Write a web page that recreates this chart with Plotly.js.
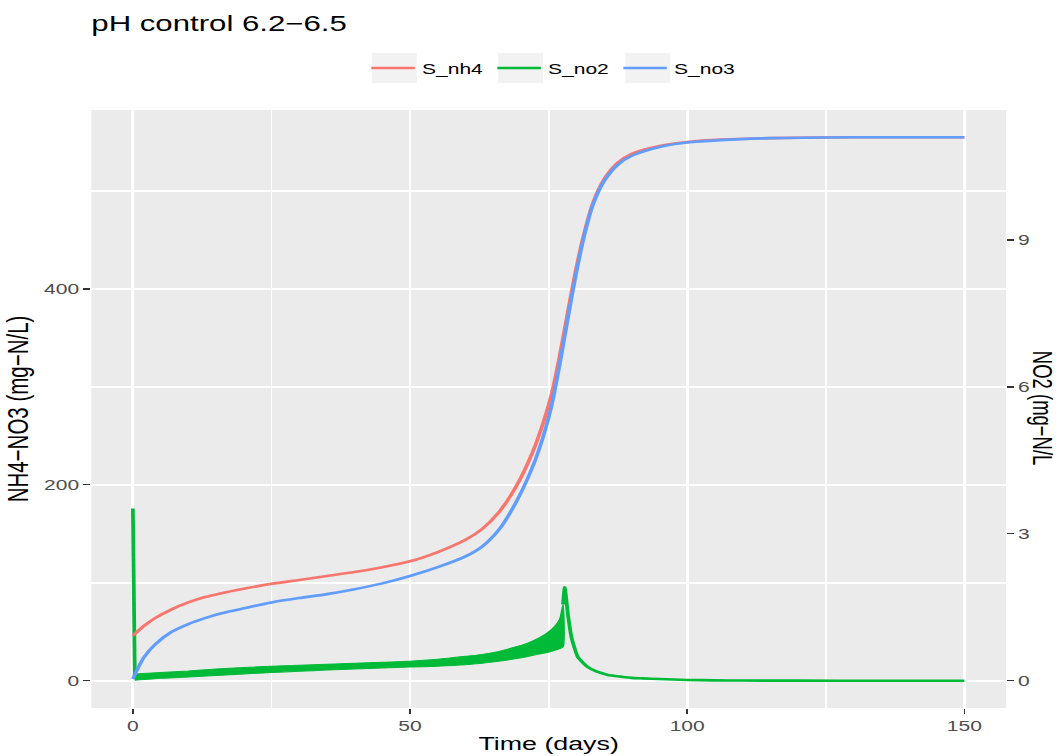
<!DOCTYPE html>
<html>
<head>
<meta charset="utf-8">
<script src="https://cdn.plot.ly/plotly-3.0.1.min.js"></script>
<style>
  html, body { margin: 0; padding: 0; overflow: hidden; background: #ffffff; }
  #plot { width: 732px; height: 756px; transform: scaleX(1.4495); transform-origin: 0 0; }
</style>
</head>
<body>
<div id="plot"></div>
<script>
// ---- data ----
const time = [0, 2, 4, 7, 10, 13, 16, 20, 25, 30, 35, 40, 45, 50, 55, 60, 63, 66, 69, 72, 74, 75.5, 77, 78.5, 80, 81.5, 83, 85, 87.5, 90, 95, 100, 106, 115, 130, 150];
const S_nh4 = [46, 56, 64, 73, 80, 85.5, 89.5, 94, 99, 103, 107, 111, 116, 122, 131.5, 144, 155, 172, 197, 232, 263, 292, 332, 378, 422, 459, 488, 512, 529, 538, 546, 550, 552.5, 554, 555, 555];
const S_no3 = [2, 24, 37, 50, 58, 64, 69, 74, 80, 84.5, 88.5, 93.5, 99.5, 107, 116, 127, 137, 154, 181, 217, 249, 280, 323, 371, 417, 456, 486, 510, 527, 536, 545, 549.5, 552, 554, 555, 555];

// S_no2 (mg-N/L, right axis): initial spike
const no2_spike_t = [0, 0.12, 0.35];
const no2_spike = [3.52, 0.95, 0.03];
// S_no2 fast oscillation: lower / upper envelope of the band
const no2_band_t = [0.35, 5, 10, 15, 20, 25, 30, 35, 40, 45, 50, 55, 60, 63, 66, 69, 71, 73, 74.5, 76, 77, 77.6];
const no2_band_lo = [0.01, 0.05, 0.08, 0.11, 0.14, 0.17, 0.194, 0.22, 0.24, 0.26, 0.28, 0.30, 0.33, 0.36, 0.40, 0.45, 0.49, 0.54, 0.57, 0.62, 0.66, 0.69];
const no2_band_hi = [0.14, 0.17, 0.20, 0.24, 0.27, 0.30, 0.32, 0.34, 0.36, 0.38, 0.40, 0.44, 0.50, 0.54, 0.60, 0.69, 0.76, 0.86, 0.96, 1.10, 1.26, 1.56];
// S_no2 peak and decay
const no2_decay_t = [77.6, 77.9, 78.5, 79.1, 79.7, 80.3, 81.2, 82.1, 83.5, 84.5, 85.7, 88, 90, 92, 95, 100, 105, 110, 120, 135, 150];
const no2_decay = [1.56, 1.91, 1.34, 0.90, 0.66, 0.48, 0.37, 0.28, 0.20, 0.16, 0.12, 0.086, 0.06, 0.05, 0.036, 0.018, 0.01, 0.006, 0.003, 0.0016, 0.001];

const xTicks = [0, 50, 100, 150];
const leftTicks = [0, 200, 400];
const rightTicks = [0, 3, 6, 9];

// ---- style ----
const RED = '#F8766D', GREEN = '#00BA38', BLUE = '#619CFF';
const FONT = 'Liberation Sans, Arial, Helvetica, sans-serif';
const LW = 2.6;

const traces = [
  { // band polygon (oscillating NO2)
    x: no2_band_t.concat(no2_band_t.slice().reverse()),
    y: no2_band_hi.concat(no2_band_lo.slice().reverse()),
    yaxis: 'y', type: 'scatter', mode: 'lines', fill: 'toself',
    fillcolor: GREEN, line: { color: GREEN, width: 1, shape: 'spline', smoothing: 0.6 },
    showlegend: false, legendgroup: 'no2', hoverinfo: 'skip'
  },
  {
    x: no2_spike_t, y: no2_spike, yaxis: 'y', type: 'scatter', mode: 'lines',
    line: { color: GREEN, width: LW }, showlegend: false, legendgroup: 'no2'
  },
  {
    x: no2_decay_t, y: no2_decay, yaxis: 'y', type: 'scatter', mode: 'lines',
    name: 'S_no2', line: { color: GREEN, width: LW, shape: 'spline', smoothing: 0.5 },
    legendgroup: 'no2', legendrank: 2
  },
  {
    x: time, y: S_nh4, yaxis: 'y2', type: 'scatter', mode: 'lines',
    name: 'S_nh4', line: { color: RED, width: LW, shape: 'spline', smoothing: 0.8 }, legendrank: 1
  },
  {
    x: time, y: S_no3, yaxis: 'y2', type: 'scatter', mode: 'lines',
    name: 'S_no3', line: { color: BLUE, width: LW, shape: 'spline', smoothing: 0.8 }, legendrank: 3
  }
];

const tickFont = { family: FONT, size: 14.5, color: '#4D4D4D' };
const titleFont = { family: FONT, size: 18.5, color: '#000000' };

// legend key backgrounds (grey95 squares, as in ggplot2)
const keyBoxes = [[256.5, 287.5], [343.7, 374.7], [431.4, 462.4]].map(function (b) {
  return {
    type: 'rect', xref: 'paper', yref: 'paper', layer: 'below',
    x0: (b[0] - 63) / 631, x1: (b[1] - 63) / 631, y0: 1.0452, y1: 1.0953,
    fillcolor: '#F2F2F2', line: { width: 0 }
  };
});

const layout = {
  width: 732, height: 756,
  paper_bgcolor: '#FFFFFF', plot_bgcolor: '#EBEBEB',
  margin: { l: 63, r: 38, t: 110, b: 48 },
  font: { family: FONT },
  title: {
    text: 'pH control 6.2\u22126.5',
    font: { family: FONT, size: 21.5, color: '#000000' },
    xref: 'paper', x: 0, xanchor: 'left',
    yref: 'container', y: 0.969, yanchor: 'middle'
  },
  showlegend: true,
  legend: {
    orientation: 'h', x: 0.505, xanchor: 'center', y: 1.0 + 42 / 598, yanchor: 'middle',
    font: { family: FONT, size: 14.5, color: '#000000' },
    bgcolor: 'rgba(0,0,0,0)', traceorder: 'normal', itemwidth: 30
  },
  shapes: keyBoxes,
  xaxis: {
    range: [-7.5, 157.5], tickvals: xTicks, ticktext: xTicks.map(String),
    showgrid: true, gridcolor: '#FFFFFF', gridwidth: 2, zeroline: false,
    minor: { dtick: 25, tick0: 0, showgrid: true, gridcolor: '#FFFFFF', gridwidth: 1.3, ticks: '' },
    ticks: 'outside', ticklen: 4.5, tickwidth: 1.1, tickcolor: '#333333',
    tickfont: tickFont, showline: false,
    title: { text: 'Time (days)', font: titleFont, standoff: 4 }
  },
  yaxis: {
    range: [-0.555, 11.655], side: 'right', tickvals: rightTicks, ticktext: rightTicks.map(String),
    showgrid: false, zeroline: false,
    ticks: 'outside', ticklen: 4.5, tickwidth: 1.1, tickcolor: '#333333',
    tickfont: tickFont, showline: false,
    title: { text: '' }
  },
  yaxis2: {
    range: [-27.75, 582.75], overlaying: 'y', side: 'left',
    tickvals: leftTicks, ticktext: leftTicks.map(String),
    showgrid: true, gridcolor: '#FFFFFF', gridwidth: 2, zeroline: false,
    minor: { dtick: 100, tick0: 0, showgrid: true, gridcolor: '#FFFFFF', gridwidth: 1.3, ticks: '' },
    ticks: 'outside', ticklen: 4.5, tickwidth: 1.1, tickcolor: '#333333',
    tickfont: tickFont, showline: false,
    title: { text: 'NH4\u2212NO3 (mg\u2212N/L)', font: { family: FONT, size: 20.5, color: '#000000' }, standoff: 5 }
  },
  annotations: [{
    text: 'NO2 (mg\u2212N/L', textangle: 90, showarrow: false,
    xref: 'paper', yref: 'paper', x: 1.0 + 25 / 631, y: 0.502, xanchor: 'center', yanchor: 'middle',
    font: titleFont
  }]
};

Plotly.newPlot('plot', traces, layout, { displayModeBar: false, staticPlot: true });
</script>
</body>
</html>
